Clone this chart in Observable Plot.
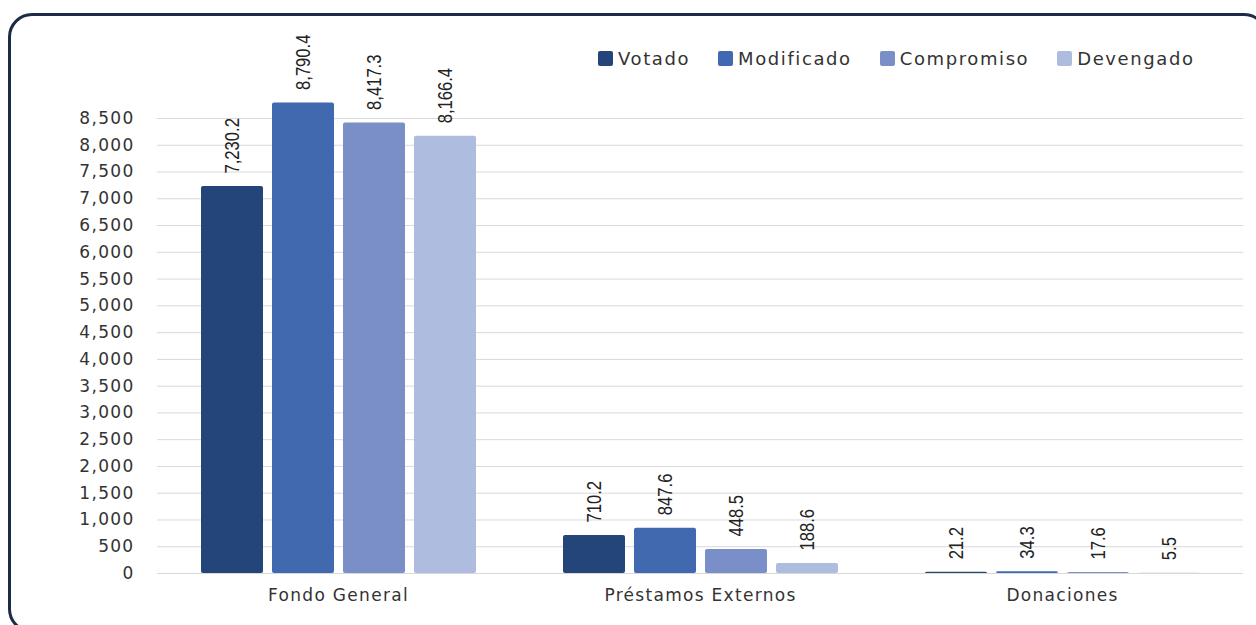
<!DOCTYPE html>
<html><head><meta charset="utf-8">
<script src="https://cdn.jsdelivr.net/npm/d3@7"></script>
<script src="https://cdn.jsdelivr.net/npm/@observablehq/plot@0.6"></script>
<style>
body{margin:0;background:#fff;width:1256px;height:625px;overflow:hidden;position:relative;font-family:"DejaVu Sans",sans-serif;}
#box{position:absolute;left:8px;top:13px;width:1260px;height:620px;border:3px solid #1c2b47;border-radius:24px;box-sizing:border-box;}
#chart{position:absolute;left:0;top:0;}
#legend{position:absolute;left:598px;top:48px;display:flex;font-size:18px;letter-spacing:1.6px;color:#333;}
#legend .it{display:flex;align-items:center;margin-right:28px;}
#legend .sw{width:15px;height:15px;border-radius:2px;margin-right:5px;}
</style></head>
<body>
<div id="box"></div>
<div id="chart"></div>
<div id="legend"></div>
<script>
const categories = ["Fondo General", "Préstamos Externos", "Donaciones"];
const seriesNames = ["Votado", "Modificado", "Compromiso", "Devengado"];
const votado = [7230.2, 710.2, 21.2];
const modificado = [8790.4, 847.6, 34.3];
const compromiso = [8417.3, 448.5, 17.6];
const devengado = [8166.4, 188.6, 5.5];
const colors = ["#24457a", "#4169b0", "#7a8ec8", "#adbcdf"];
const yTicks = d3.range(0, 8501, 500);

const seriesValues = [votado, modificado, compromiso, devengado];
const data = [];
categories.forEach((c, i) => seriesNames.forEach((s, j) => data.push({cat: c, serie: s, value: seriesValues[j][i]})));

const chart = Plot.plot({
  width: 1256,
  height: 625,
  marginLeft: 156,
  marginRight: 13,
  marginTop: 118,
  marginBottom: 52,
  style: {fontFamily: "DejaVu Sans, sans-serif", background: "transparent"},
  fx: {domain: categories, paddingInner: 0, paddingOuter: 0, label: null},
  x: {domain: seriesNames, paddingInner: 0.127, paddingOuter: 0.61, axis: null},
  y: {domain: [0, 8500], label: null, axis: null},
  color: {domain: seriesNames, range: colors},
  marks: [
    Plot.ruleY(yTicks, {y: d => d, stroke: "#d9d9d9", strokeWidth: 1}),
    Plot.barY(data, {fx: "cat", x: "serie", y: "value", fill: "serie", rx: 2}),
    Plot.text(data, {fx: "cat", x: "serie", y: "value", text: d => d3.format(",.1f")(d.value), rotate: -90, textAnchor: "start", dy: -13, fontSize: 21, fill: "#222", fontFamily: "Liberation Sans, sans-serif", className: "vlab"}),
    Plot.axisY({ticks: yTicks, tickFormat: d3.format(","), tickSize: 0, tickPadding: 23, fontSize: 17, fill: "#333", label: null}),
    Plot.axisFx({anchor: "bottom", tickSize: 0, tickPadding: 15, fontSize: 17, fill: "#333", label: null})
  ]
});
chart.querySelectorAll('[aria-label="y-axis tick label"] text, [aria-label="fx-axis tick label"] text').forEach(t => t.setAttribute("letter-spacing", "1.3"));
document.getElementById("chart").appendChild(chart);
chart.querySelectorAll('.vlab text').forEach(t => {
  const L = t.getComputedTextLength();
  t.setAttribute("textLength", (L * 0.79).toFixed(1));
  t.setAttribute("lengthAdjust", "spacingAndGlyphs");
});

const lg = document.getElementById("legend");
seriesNames.forEach((s, i) => {
  const it = document.createElement("div"); it.className = "it";
  const sw = document.createElement("div"); sw.className = "sw"; sw.style.background = colors[i];
  const tx = document.createElement("span"); tx.textContent = s;
  it.appendChild(sw); it.appendChild(tx); lg.appendChild(it);
});
</script>
</body></html>
